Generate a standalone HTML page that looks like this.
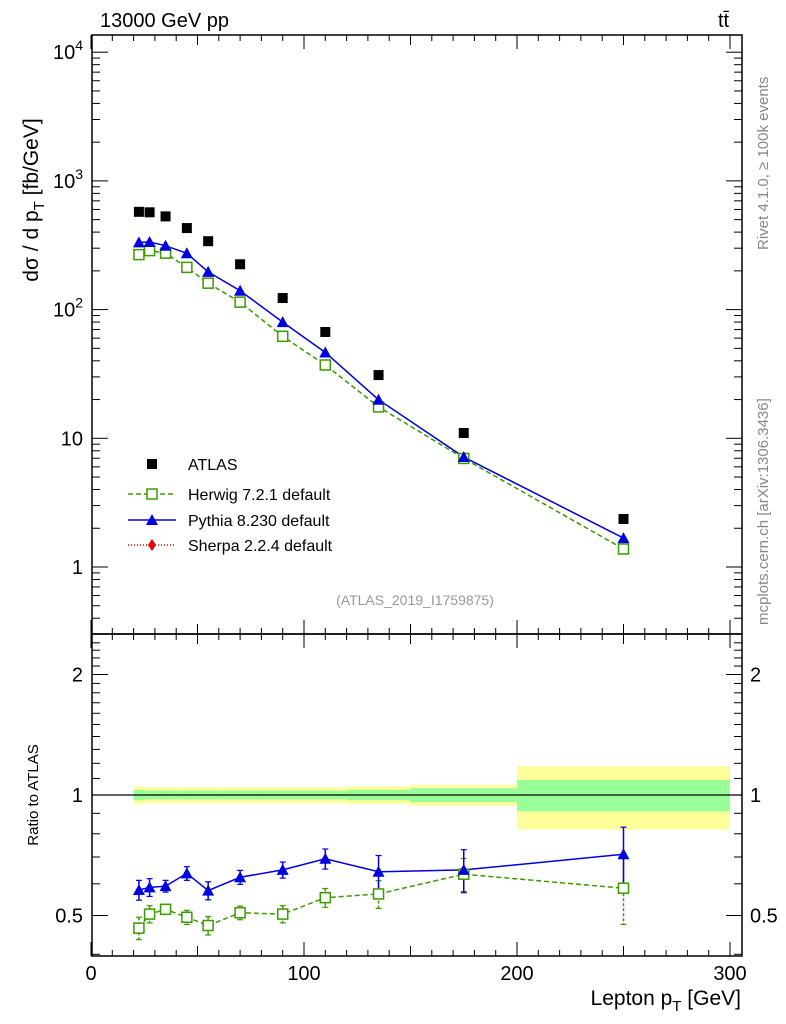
<!DOCTYPE html>
<html><head><meta charset="utf-8"><style>
body{margin:0;background:#fff;}
svg{display:block;font-family:"Liberation Sans",sans-serif;}
</style></head><body>
<svg id="c" width="786" height="1024" viewBox="0 0 786 1024">
<g id="bands"></g><g id="grid"></g><g id="marks"></g><g id="axes"></g>
<text x="100" y="27" font-size="20">13000 GeV pp</text>
<text x="718" y="27" font-size="20">tt̄</text>
<text transform="translate(768,250) rotate(-90)" font-size="15" fill="#888">Rivet 4.1.0, ≥ 100k events</text>
<text transform="translate(768,625) rotate(-90)" font-size="15" fill="#888">mcplots.cern.ch [arXiv:1306.3436]</text>
<text x="415" y="605" font-size="14" fill="#999" text-anchor="middle">(ATLAS_2019_I1759875)</text>
<text transform="translate(38,200) rotate(-90)" font-size="21" text-anchor="middle">dσ / d p<tspan font-size="15" dy="6">T</tspan><tspan dy="-6"> [fb/GeV]</tspan></text>
<text transform="translate(38,795) rotate(-90)" font-size="15" text-anchor="middle">Ratio to ATLAS</text>
<text x="741" y="1005" font-size="21" text-anchor="end">Lepton p<tspan font-size="15" dy="6">T</tspan><tspan dy="-6"> [GeV]</tspan></text>
<g id="legend">
<rect x="147" y="459" width="10" height="10" fill="#000"/>
<text x="188" y="470" font-size="16">ATLAS</text>
<line x1="128" y1="494" x2="176" y2="494" stroke="#3a9a00" stroke-width="1.5" stroke-dasharray="5,3"/>
<rect x="147" y="489" width="10" height="10" fill="#fff" stroke="#3a9a00" stroke-width="1.5"/>
<text x="188" y="500" font-size="16">Herwig 7.2.1 default</text>
<line x1="128" y1="520" x2="176" y2="520" stroke="#0000e0" stroke-width="1.5"/>
<polygon points="152,514 158,525 146,525" fill="#0000e0"/>
<text x="188" y="526" font-size="16">Pythia 8.230 default</text>
<line x1="128" y1="545" x2="176" y2="545" stroke="#d00" stroke-width="1.5" stroke-dasharray="1,2"/>
<polygon points="152,539 156,545 152,551 148,545" fill="#e00"/>
<text x="188" y="551" font-size="16">Sherpa 2.2.4 default</text>
</g>
</svg>
<script>
const xs=[22.5,27.5,35,45,55,70,90,110,135,175,250];
const atlas=[575,570,530,430,340,225,123,67,31,11,2.36];
const pythiaRatio=[0.579,0.588,0.592,0.637,0.577,0.623,0.650,0.693,0.643,0.650,0.711];
const herwigRatio=[0.465,0.504,0.518,0.495,0.472,0.508,0.504,0.554,0.566,0.634,0.585];
const pythiaErr=[0.033,0.03,0.02,0.025,0.03,0.025,0.03,0.04,0.063,0.08,0.12];
const herwigErr=[0.03,0.025,0.015,0.02,0.025,0.02,0.025,0.03,0.045,0.06,0.11];
const binEdges=[20,25,30,40,50,60,80,100,120,150,200,300];
const yellowErr=[0.05,0.045,0.045,0.045,0.045,0.045,0.045,0.045,0.05,0.06,0.18];
const greenErr=[0.03,0.025,0.025,0.025,0.025,0.025,0.025,0.025,0.03,0.04,0.09];
const xTicks=[0,100,200,300];
const yTicks=[1,10,100,1000,10000];
const rTicks=[0.5,1,2];

const L=92,R=742,T=35,M=634,B=956;
const X=v=>91+v*2.13;
const Y=v=>567-Math.log10(v)*128.7;
const YR=v=>795-Math.log2(v)*120.5;
const NS="http://www.w3.org/2000/svg";
function mk(p,t,a){const e=document.createElementNS(NS,t);for(const k in a)e.setAttribute(k,a[k]);document.getElementById(p).appendChild(e);return e;}

for(let i=0;i<xs.length;i++){
 const x0=X(binEdges[i]),x1=X(binEdges[i+1]);
 const y=mk('bands','rect',{x:x0,y:YR(1+yellowErr[i]),width:x1-x0,height:YR(1-yellowErr[i])-YR(1+yellowErr[i]),fill:'#ffff99'});
 
 
 const g=mk('bands','rect',{x:x0,y:YR(1+greenErr[i]),width:x1-x0,height:YR(1-greenErr[i])-YR(1+greenErr[i]),fill:'#99ff99'});
 
 
}
let l1=mk('bands','line',{x1:L,x2:R,y1:YR(1),y2:YR(1),stroke:'#000','stroke-width':1.2});



function series(vals,yf,color,dash,name){
 const pts=xs.map((x,i)=>X(x)+','+yf(vals[i])).join(' ');
 const pl=mk('marks','polyline',{points:pts,fill:'none',stroke:color,'stroke-width':1.5,'stroke-dasharray':dash});
 
 
}
const pyMain=xs.map((x,i)=>atlas[i]*pythiaRatio[i]);
const hwMain=xs.map((x,i)=>atlas[i]*herwigRatio[i]);
series(hwMain,Y,'#3a9a00','5,3','herwig-main');
series(pyMain,Y,'#0000e0','','pythia-main');
series(herwigRatio,YR,'#3a9a00','5,3','herwig-ratio');
series(pythiaRatio,YR,'#0000e0','','pythia-ratio');
function errbar(x,v,e,color,dash,name){
 const l=mk('marks','line',{x1:X(x),x2:X(x),y1:YR(v+e),y2:YR(v-e),stroke:color,'stroke-width':1.5,'stroke-dasharray':dash});
 
 
 mk('marks','line',{x1:X(x)-3,x2:X(x)+3,y1:YR(v+e),y2:YR(v+e),stroke:color,'stroke-width':1.2});
 mk('marks','line',{x1:X(x)-3,x2:X(x)+3,y1:YR(v-e),y2:YR(v-e),stroke:color,'stroke-width':1.2});
}
function sq(x,y,name){const r=mk('marks','rect',{x:x-5,y:y-5,width:10,height:10,fill:'#fff',stroke:'#3a9a00','stroke-width':1.5});
 
 }
function tri(x,y,name){const p=mk('marks','polygon',{points:`${x},${y-6} ${x+6},${y+5} ${x-6},${y+5}`,fill:'#0000e0'});
 
 }
xs.forEach((x,i)=>{
 errbar(x,herwigRatio[i],herwigErr[i],'#3a9a00','3,2','herwig-ratio-error');
 errbar(x,pythiaRatio[i],pythiaErr[i],'#0000e0','','pythia-ratio-error');
 sq(X(x),Y(hwMain[i]),'herwig-point');
 tri(X(x),Y(pyMain[i]),'pythia-point');
 sq(X(x),YR(herwigRatio[i]),'herwig-ratio-point');
 tri(X(x),YR(pythiaRatio[i]),'pythia-ratio-point');
 const a=mk('marks','rect',{x:X(x)-5,y:Y(atlas[i])-5,width:10,height:10,fill:'#000'});
 
 
});

[[T,M],[M,B]].forEach(([t,b],k)=>{
 const f=mk('axes','rect',{x:L,y:t,width:R-L,height:b-t,fill:'none',stroke:'#000','stroke-width':1.5});
 
 
 for(let v=0;v<=305;v+=10){const big=v%100===0,med=v%50===0;const h=big?14:(med?10:6);
  mk('axes','line',{x1:X(v),x2:X(v),y1:b,y2:b-h,stroke:'#000'});
  mk('axes','line',{x1:X(v),x2:X(v),y1:t,y2:t+h,stroke:'#000'});}
});
xTicks.forEach(v=>{const t=mk('axes','text',{x:X(v),y:980,'font-size':20,'text-anchor':'middle'});t.textContent=v;
 
 });
for(let d=-1;d<=4;d++)for(let m=1;m<10;m++){const v=m*Math.pow(10,d);const y=Y(v);if(y<T||y>M)continue;
 const h=m===1?16:8;mk('axes','line',{x1:L,x2:L+h,y1:y,y2:y,stroke:'#000'});mk('axes','line',{x1:R,x2:R-h,y1:y,y2:y,stroke:'#000'});}
yTicks.forEach(v=>{const t=mk('axes','text',{x:83,y:Y(v)+7,'font-size':20,'text-anchor':'end'});
 
 
 if(v>=100){t.textContent='10';const s=document.createElementNS(NS,'tspan');s.setAttribute('font-size',14);s.setAttribute('dy',-9);s.textContent=Math.log10(v);t.appendChild(s);}else t.textContent=v;});
for(let v=0.4;v<=2.5;v+=0.1){const y=YR(v);if(y<M||y>B)continue;const big=Math.abs(v-0.5)<1e-6||Math.abs(v-1)<1e-6||Math.abs(v-2)<1e-6;const h=big?16:8;
 mk('axes','line',{x1:L,x2:L+h,y1:y,y2:y,stroke:'#000'});mk('axes','line',{x1:R,x2:R-h,y1:y,y2:y,stroke:'#000'});}
rTicks.forEach(v=>{[[83,'end'],[750,'start']].forEach(([x,a])=>{const t=mk('axes','text',{x:x,y:YR(v)+7,'font-size':20,'text-anchor':a});t.textContent=v;
 
 });});
</script>
</body></html>
